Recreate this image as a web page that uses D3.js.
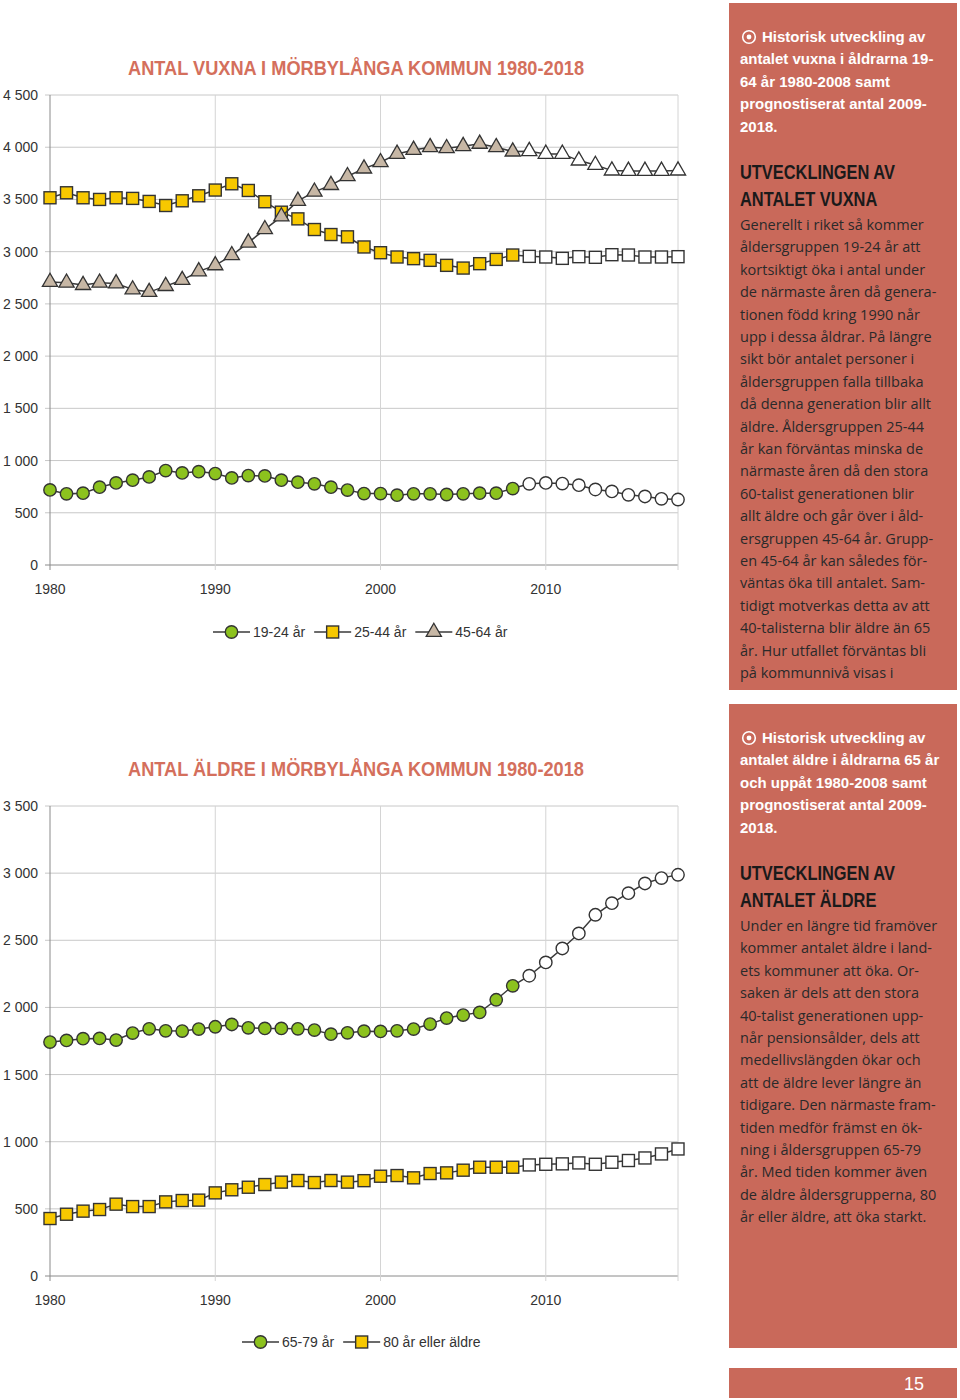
<!DOCTYPE html>
<html>
<head>
<meta charset="utf-8">
<script src="https://cdn.jsdelivr.net/npm/d3@7"></script>
<style>
  body { margin: 0; background: #fff; }
  svg { display: block; font-family: "Liberation Sans", Arial, sans-serif; }
</style>
</head>
<body>
<div id="page"></div>
<script>
// Years shared by both charts (historic 1980-2008, prognosis 2009-2018)
const years = d3.range(1980, 2019);
const lastHistoric = 2008;

// Chart 1: adults
const adults1924 = [719, 681, 688, 745, 786, 812, 843, 904, 882, 894, 875, 834, 856, 853, 812, 793, 777, 745, 717, 684,
                    684, 669, 681, 681, 675, 681, 688, 688, 732, 777, 786, 780, 764, 723, 704, 672, 656, 634, 627];
const adults2544 = [3516, 3564, 3516, 3500, 3516, 3510, 3481, 3442, 3487, 3535, 3590, 3650, 3586, 3478, 3378, 3314, 3212, 3164, 3142, 3045,
                    2990, 2949, 2933, 2917, 2869, 2843, 2885, 2926, 2968, 2955, 2949, 2936, 2952, 2946, 2971, 2968, 2949, 2949, 2952];
const adults4564 = [2709, 2702, 2680, 2702, 2696, 2638, 2613, 2670, 2728, 2811, 2869, 2965, 3086, 3214, 3336, 3486, 3573, 3637, 3722, 3795,
                    3856, 3936, 3974, 4000, 3990, 4010, 4032, 4000, 3958, 3962, 3936, 3936, 3872, 3830, 3776, 3773, 3773, 3773, 3776];

// Chart 2: elderly
const elderly6579 = [1742, 1754, 1767, 1769, 1757, 1809, 1841, 1826, 1824, 1839, 1856, 1873, 1848, 1844, 1844, 1841, 1831, 1801, 1811, 1823,
                     1821, 1826, 1839, 1876, 1921, 1943, 1963, 2057, 2161, 2236, 2335, 2439, 2551, 2690, 2776, 2851, 2923, 2963, 2988];
const elderly80 = [428, 460, 483, 495, 535, 517, 517, 552, 562, 565, 619, 642, 661, 681, 699, 711, 696, 711, 699, 710,
                   743, 748, 731, 763, 768, 788, 810, 810, 810, 827, 832, 835, 842, 832, 847, 860, 879, 909, 946];

const xTicks = [1980, 1990, 2000, 2010];

const salmon = "#c9695a";
const titleColor = "#d46f5c";
const lineColor = "#3a3a3a";

const fmt = v => d3.format(",")(v).replace(/,/g, " ");

const svg = d3.select("#page").append("svg")
    .attr("width", 960)
    .attr("height", 1400);

// squeeze a text element to a share of its natural width
function squeeze(sel, factor) {
    sel.each(function() {
        const w = this.getComputedTextLength();
        d3.select(this).attr("textLength", w * factor).attr("lengthAdjust", "spacingAndGlyphs");
    });
}

// Chart builder
function drawChart(opts) {
    const g = svg.append("g");
    const x = d3.scaleLinear().domain([1980, 2018]).range([50, 678]);
    const y = d3.scaleLinear().domain([0, opts.yMax]).range([opts.y0, opts.yTop]);
    const yTicks = d3.range(0, opts.yMax + 1, 500);

    // horizontal gridlines
    g.selectAll(".hgrid").data(yTicks).join("line")
        .attr("x1", 45).attr("x2", 678)
        .attr("y1", d => y(d)).attr("y2", d => y(d))
        .attr("stroke", d => d === 0 ? "#8a8a8a" : "#c8c8c8")
        .attr("stroke-width", 1);

    // vertical gridlines
    g.selectAll(".vgrid").data([1990, 2000, 2010, 2018]).join("line")
        .attr("x1", d => x(d)).attr("x2", d => x(d))
        .attr("y1", opts.yTop).attr("y2", opts.y0 + 5)
        .attr("stroke", "#d4d4d4");

    // y axis line
    g.append("line")
        .attr("x1", 50).attr("x2", 50)
        .attr("y1", opts.yTop).attr("y2", opts.y0 + 5)
        .attr("stroke", "#8a8a8a");

    // y labels
    g.selectAll(".ylab").data(yTicks).join("text")
        .attr("x", 38).attr("y", d => y(d) + 5)
        .attr("text-anchor", "end")
        .attr("font-size", 14)
        .attr("fill", "#333")
        .text(d => fmt(d));

    // x labels
    g.selectAll(".xlab").data(xTicks).join("text")
        .attr("x", d => x(d)).attr("y", opts.y0 + 29)
        .attr("text-anchor", "middle")
        .attr("font-size", 14)
        .attr("fill", "#333")
        .text(d => d);

    // title
    g.append("text")
        .attr("x", 128).attr("y", opts.titleY)
        .attr("font-size", 19.5)
        .attr("font-weight", "bold")
        .attr("fill", titleColor)
        .attr("textLength", 456)
        .attr("lengthAdjust", "spacingAndGlyphs")
        .text(opts.title);

    const line = d3.line().x((d, i) => x(years[i])).y(d => y(d));

    opts.series.forEach(s => {
        g.append("path")
            .datum(s.values)
            .attr("d", line)
            .attr("fill", "none")
            .attr("stroke", lineColor)
            .attr("stroke-width", 1.5);

        const pts = s.values.map((v, i) => ({ year: years[i], value: v }));
        const fillOf = d => d.year <= lastHistoric ? s.color : "#fff";
        drawMarkers(g, pts, s.shape, d => x(d.year), d => y(d.value), fillOf);
    });

    // legend
    const lg = g.append("g");
    let lx = opts.legendX;
    const ly = opts.legendY;
    opts.series.forEach(s => {
        lg.append("line")
            .attr("x1", lx).attr("x2", lx + 37)
            .attr("y1", ly).attr("y2", ly)
            .attr("stroke", lineColor).attr("stroke-width", 1.5);
        drawMarkers(lg, [{}], s.shape, () => lx + 18.5, () => ly, () => s.color);
        const t = lg.append("text")
            .attr("x", lx + 40).attr("y", ly + 5)
            .attr("font-size", 14)
            .attr("fill", "#333")
            .text(s.name);
        lx += 40 + t.node().getComputedTextLength() + 9;
    });
}

function drawMarkers(g, data, shape, fx, fy, fill) {
    if (shape === "circle") {
        g.selectAll(null).data(data).join("circle")
            .attr("cx", fx).attr("cy", fy).attr("r", 6.2)
            .attr("fill", fill).attr("stroke", "#333").attr("stroke-width", 1.4);
    } else if (shape === "square") {
        g.selectAll(null).data(data).join("rect")
            .attr("x", d => fx(d) - 6).attr("y", d => fy(d) - 6)
            .attr("width", 12).attr("height", 12)
            .attr("fill", fill).attr("stroke", "#333").attr("stroke-width", 1.4);
    } else {
        const tri = d3.symbol().type(d3.symbolTriangle).size(100);
        g.selectAll(null).data(data).join("path")
            .attr("d", tri)
            .attr("transform", d => `translate(${fx(d)},${fy(d)})`)
            .attr("fill", fill).attr("stroke", "#333").attr("stroke-width", 1.3);
    }
}

drawChart({
    title: "ANTAL VUXNA I MÖRBYLÅNGA KOMMUN 1980-2018",
    titleY: 75,
    yMax: 4500, y0: 565, yTop: 95,
    legendX: 213, legendY: 632,
    series: [
        { name: "19-24 år", values: adults1924, shape: "circle", color: "#8cc21e" },
        { name: "25-44 år", values: adults2544, shape: "square", color: "#f7c800" },
        { name: "45-64 år", values: adults4564, shape: "triangle", color: "#c7b7a5" }
    ]
});

drawChart({
    title: "ANTAL ÄLDRE I MÖRBYLÅNGA KOMMUN 1980-2018",
    titleY: 776,
    yMax: 3500, y0: 1276, yTop: 806,
    legendX: 242, legendY: 1342,
    series: [
        { name: "65-79 år", values: elderly6579, shape: "circle", color: "#8cc21e" },
        { name: "80 år eller äldre", values: elderly80, shape: "square", color: "#f7c800" }
    ]
});

// Side panels
const panel1Lead = ["Historisk utveckling av", "antalet vuxna i åldrarna 19-", "64 år 1980-2008 samt", "prognostiserat antal 2009-", "2018."];
const panel1Head = ["UTVECKLINGEN AV", "ANTALET VUXNA"];
const panel1Body = ["Generellt i riket så kommer", "åldersgruppen 19-24 år att", "kortsiktigt öka i antal under",
    "de närmaste åren då genera-", "tionen född kring 1990 når", "upp i dessa åldrar. På längre",
    "sikt bör antalet personer i", "åldersgruppen falla tillbaka", "då denna generation blir allt",
    "äldre. Åldersgruppen 25-44", "år kan förväntas minska de", "närmaste åren då den stora",
    "60-talist generationen blir", "allt äldre och går över i åld-", "ersgruppen 45-64 år. Grupp-",
    "en 45-64 år kan således för-", "väntas öka till antalet. Sam-", "tidigt motverkas detta av att",
    "40-talisterna blir äldre än 65", "år. Hur utfallet förväntas bli", "på kommunnivå visas i"];

const panel2Lead = ["Historisk utveckling av", "antalet äldre i åldrarna 65 år", "och uppåt 1980-2008 samt", "prognostiserat antal 2009-", "2018."];
const panel2Head = ["UTVECKLINGEN AV", "ANTALET ÄLDRE"];
const panel2Body = ["Under en längre tid framöver", "kommer antalet äldre i land-", "ets kommuner att öka. Or-",
    "saken är dels att den stora", "40-talist generationen upp-", "når pensionsålder, dels att",
    "medellivslängden ökar  och", "att de äldre lever längre än", "tidigare. Den närmaste fram-",
    "tiden medför främst en ök-", "ning i åldersgruppen 65-79", "år. Med tiden kommer även",
    "de äldre åldersgrupperna, 80", "år eller äldre, att öka starkt."];

function drawPanel(top, bottom, lead, head, body) {
    const g = svg.append("g");
    g.append("rect")
        .attr("x", 729).attr("y", top)
        .attr("width", 228).attr("height", bottom - top)
        .attr("fill", salmon);

    const leadY = top + 39;
    // radio-style bullet
    g.append("circle").attr("cx", 749).attr("cy", leadY - 5).attr("r", 6.3)
        .attr("fill", "none").attr("stroke", "#fff").attr("stroke-width", 1.6);
    g.append("circle").attr("cx", 749).attr("cy", leadY - 5).attr("r", 2.4).attr("fill", "#fff");

    g.selectAll(null).data(lead).join("text")
        .attr("x", (d, i) => i === 0 ? 762 : 740)
        .attr("y", (d, i) => leadY + i * 22.4)
        .attr("font-size", 15)
        .attr("font-weight", "bold")
        .attr("fill", "#fff")
        .text(d => d);

    const headY = top + 176;
    g.selectAll(null).data(head).join("text")
        .attr("x", 740)
        .attr("y", (d, i) => headY + i * 26.5)
        .attr("font-size", 20)
        .attr("font-weight", "bold")
        .attr("fill", "#1a1a1a")
        .text(d => d)
        .call(squeeze, 0.82);

    const bodyY = headY + 51;
    g.selectAll(null).data(body).join("text")
        .attr("x", 740)
        .attr("y", (d, i) => bodyY + i * 22.4)
        .attr("font-size", 14.5)
        .attr("font-family", "'Open Sans', sans-serif")
        .attr("fill", "#2a2a2a")
        .text(d => d);
}

drawPanel(3, 690, panel1Lead, panel1Head, panel1Body);
drawPanel(704, 1348, panel2Lead, panel2Head, panel2Body);

// page number bar
svg.append("rect").attr("x", 729).attr("y", 1368).attr("width", 228).attr("height", 30).attr("fill", salmon);
svg.append("text").attr("x", 924).attr("y", 1390)
    .attr("text-anchor", "end")
    .attr("font-size", 18)
    .attr("fill", "#fff")
    .text("15");
</script>
</body>
</html>
